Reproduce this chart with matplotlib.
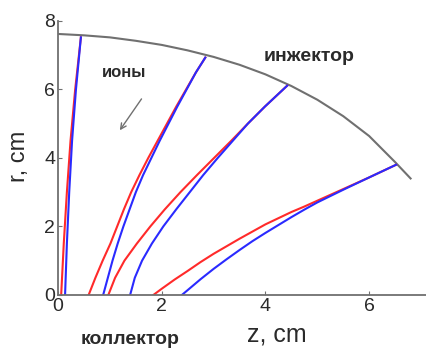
import matplotlib
matplotlib.use("Agg")
import matplotlib.pyplot as plt

plt.rcParams['font.family'] = ['Liberation Sans', 'DejaVu Sans']

# injector boundary (z, r)
inj_z = [0.0, 0.5, 1.0, 1.5, 2.0, 2.5, 3.0, 3.5, 4.0, 4.5, 5.0, 5.5, 6.0, 6.5, 6.8]
inj_r = [7.62, 7.58, 7.52, 7.42, 7.3, 7.14, 6.95, 6.72, 6.44, 6.1, 5.7, 5.22, 4.64, 3.88, 3.4]

# red trajectories (z, r)
red_z = [
    [0.06, 0.11, 0.17, 0.24, 0.33, 0.44],
    [0.59, 0.72, 0.86, 1.01, 1.14, 1.27, 1.41, 1.57, 1.74, 1.92, 2.10, 2.28, 2.47, 2.66, 2.84],
    [0.97, 1.10, 1.28, 1.52, 1.78, 2.06, 2.36, 2.68, 3.01, 3.34, 3.66, 3.99, 4.42],
    [1.84, 2.0, 2.25, 2.5, 2.75, 3.0, 3.25, 3.5, 3.75, 4.0, 4.25, 4.5, 4.75, 5.0, 5.5, 6.0, 6.52],
]
red_r = [
    [0.0, 1.5, 3.0, 4.5, 6.0, 7.52],
    [0.0, 0.5, 1.0, 1.5, 2.0, 2.5, 3.0, 3.5, 4.0, 4.5, 5.0, 5.5, 6.0, 6.5, 6.93],
    [0.0, 0.5, 1.0, 1.5, 2.0, 2.5, 3.0, 3.5, 4.0, 4.5, 5.0, 5.5, 6.11],
    [0.0, 0.18, 0.45, 0.70, 0.96, 1.2, 1.42, 1.64, 1.85, 2.06, 2.24, 2.42, 2.58, 2.75, 3.09, 3.43, 3.8],
]

# blue trajectories (z, r)
blue_z = [
    [0.135, 0.17, 0.215, 0.27, 0.345, 0.44],
    [0.87, 0.96, 1.05, 1.15, 1.26, 1.38, 1.50, 1.64, 1.80, 1.96, 2.13, 2.30, 2.48, 2.66, 2.84],
    [1.39, 1.48, 1.62, 1.81, 2.03, 2.28, 2.54, 2.80, 3.08, 3.37, 3.66, 3.99, 4.42],
    [2.39, 2.5, 2.75, 3.0, 3.25, 3.5, 3.75, 4.0, 4.25, 4.5, 4.75, 5.0, 5.5, 6.0, 6.52],
]
blue_r = [
    [0.0, 1.5, 3.0, 4.5, 6.0, 7.52],
    [0.0, 0.5, 1.0, 1.5, 2.0, 2.5, 3.0, 3.5, 4.0, 4.5, 5.0, 5.5, 6.0, 6.5, 6.93],
    [0.0, 0.5, 1.0, 1.5, 2.0, 2.5, 3.0, 3.5, 4.0, 4.5, 5.0, 5.5, 6.11],
    [0.0, 0.14, 0.46, 0.76, 1.04, 1.31, 1.57, 1.81, 2.04, 2.27, 2.49, 2.70, 3.07, 3.43, 3.8],
]

xticks = [0, 2, 4, 6]
yticks = [0, 2, 4, 6, 8]

fig = plt.figure(figsize=(4.27, 3.49), dpi=100)
ax = fig.add_axes([0.136, 0.155, 0.862, 0.785])

ax.plot(inj_z, inj_r, color="#707070", lw=1.5)
for zz, rr in zip(red_z, red_r):
    ax.plot(zz, rr, color="#ff2a2a", lw=1.5)
for zz, rr in zip(blue_z, blue_r):
    ax.plot(zz, rr, color="#2a2aff", lw=1.5)

ax.set_xlim(0, 7.1)
ax.set_ylim(0, 8)
ax.set_xticks(xticks)
ax.set_yticks(yticks)
for s in ["top", "right"]:
    ax.spines[s].set_visible(False)
for s in ["left", "bottom"]:
    ax.spines[s].set_color("#707070")
    ax.spines[s].set_linewidth(1.3)
ax.tick_params(direction="in", length=3, color="#707070", labelsize=14,
               labelcolor="#2a2a2a", pad=2)

ax.set_xlabel("z, cm", fontsize=18, color="#2a2a2a", va="center")
ax.set_ylabel("r, cm", fontsize=17, color="#2a2a2a", va="center")
ax.xaxis.set_label_coords(0.595, -0.146)
ax.yaxis.set_label_coords(-0.106, 0.504)

ax.text(3.96, 6.96, "инжектор", fontsize=14, color="#2a2a2a", va="center",
        fontweight="bold")
ax.text(0.85, 6.49, "ионы", fontsize=12, color="#2a2a2a", va="center",
        fontweight="bold")
ax.annotate("", xy=(1.16, 4.74), xytext=(1.64, 5.79),
            arrowprops=dict(arrowstyle="->", color="#707070", lw=1))
fig.text(0.304, 0.026, "коллектор", fontsize=14, color="#2a2a2a",
         ha="center", va="center", fontweight="bold")

fig.savefig("out.png", dpi=100)
